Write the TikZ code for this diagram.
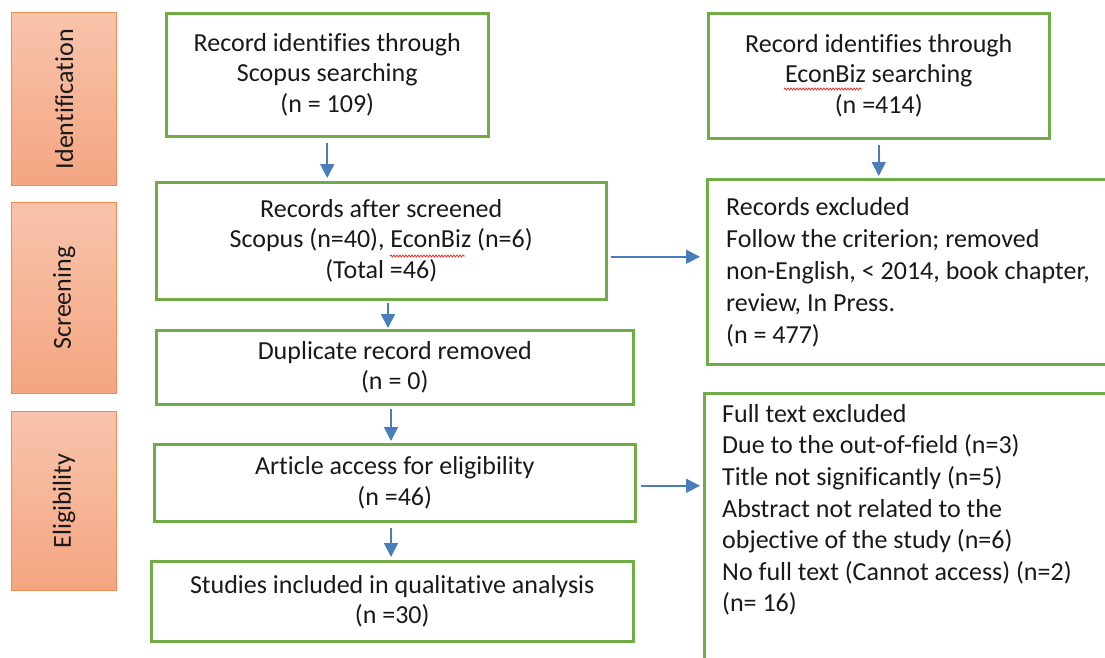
\documentclass[tikz,border=0pt]{standalone}
\usepackage{fontspec}
\setmainfont{Carlito}[Ligatures=NoCommon]
\usetikzlibrary{arrows.meta,decorations.pathmorphing}
\definecolor{boxgreen}{HTML}{70AD47}
\definecolor{arrowblue}{HTML}{4A7EBB}
\definecolor{stagetop}{HTML}{F8C4AC}
\definecolor{stagebot}{HTML}{F4A581}
\definecolor{stageline}{HTML}{F08C4E}
\definecolor{squigred}{HTML}{E03030}
\begin{document}
\begin{tikzpicture}[x=1pt,y=1pt,
 txt/.style={font=\fontsize{26}{30.5}\selectfont, text=black!90},
 gbox/.style={draw=boxgreen, line width=2.5pt, anchor=north west, inner sep=0pt, txt, align=center},
 stage/.style={draw=stageline, line width=1.2pt, top color=stagetop, bottom color=stagebot, anchor=north west, minimum width=105pt},
 stagelabel/.style={rotate=90, font=\fontsize{26}{30}\selectfont, text=black!90},
 flow/.style={draw=arrowblue, line width=1.8pt, -{Triangle[width=14pt,length=14pt]}},
 squig/.style={draw=squigred, line width=0.8pt, decorate, decoration={snake, segment length=3pt, amplitude=1pt}},
 ]
\useasboundingbox (0,0) rectangle (1105,-657);

% stage boxes
\node[stage, minimum height=173pt] (sid) at (11,-12) {};
\node[stagelabel] (lid) at (sid) {Identification};
\node[stage, minimum height=191pt] (ssc) at (11,-202) {};
\node[stagelabel] (lsc) at (ssc) {Screening};
\node[stage, minimum height=179pt] (sel) at (11,-411) {};
\node[stagelabel] (lel) at (sel) {Eligibility};

% main boxes
\node[gbox, minimum width=322pt, minimum height=123pt] (A) at (165,-12)
 {Record identifies through\\Scopus searching\\(n = 109)};
\node[gbox, minimum width=341pt, minimum height=125pt] (B) at (707,-12)
 {Record identifies through\\EconBiz searching\\(n =414)};
\node[gbox, minimum width=450pt, minimum height=117pt] (C) at (155,-181)
 {Records after screened\\Scopus (n=40), EconBiz (n=6)\\(Total =46)};
\node[gbox, minimum width=460pt, minimum height=185pt] (D) at (706,-178) {};
\node[txt, anchor=north west, align=left, inner sep=0pt, font=\fontsize{26}{32}\selectfont] (Dt) at (726,-197)
 {Records excluded\\Follow the criterion; removed\\non-English, < 2014, book chapter,\\review, In Press.\\(n = 477)};
\node[gbox, minimum width=477pt, minimum height=74pt] (E) at (155,-329)
 {Duplicate record removed\\(n = 0)};
\node[gbox, minimum width=481pt, minimum height=77pt] (G) at (153,-443)
 {Article access for eligibility\\(n =46)};
\node[gbox, minimum width=482pt, minimum height=80pt] (H) at (150,-560)
 {Studies included in qualitative analysis\\(n =30)};
\node[gbox, minimum width=460pt, minimum height=300pt] (F) at (703,-392) {};
\node[txt, anchor=north west, align=left, inner sep=0pt, font=\fontsize{26}{31.6}\selectfont] (Ft) at (722,-404)
 {Full text excluded\\Due to the out-of-field (n=3)\\Title not significantly (n=5)\\Abstract not related to the\\objective of the study (n=6)\\No full text (Cannot access) (n=2)\\(n= 16)};

% helper positions
\coordinate (x388) at (388,0);
\coordinate (x391) at (391,0);
\coordinate (cCD) at ([yshift=-16pt]C.east);
\coordinate (cGF) at ([yshift=-3pt]G.east);

% connectors
\draw[flow] ([yshift=-5pt]A.south) -- ([yshift=3pt]A.south |- C.north);
\draw[flow] ([yshift=-5pt]B.south) -- ([yshift=2pt]B.south |- D.north);
\draw[flow] ([xshift=3pt]cCD) -- ([xshift=-6pt]D.west |- cCD);
\draw[flow] ([yshift=-2pt]C.south -| x388) -- ([yshift=1pt]E.north -| x388);
\draw[flow] ([yshift=-3pt]E.south -| x391) -- ([yshift=2pt]G.north -| x391);
\draw[flow] ([xshift=4pt]cGF) -- ([xshift=-3pt]F.west |- cGF);
\draw[flow] ([yshift=-5pt]G.south -| x391) -- ([yshift=3pt]H.north -| x391);

% spell-check squiggles
\draw[squig] (784,-89) -- (862,-89);
\draw[squig] (390,-256) -- (465,-256);
\end{tikzpicture}
\end{document}
